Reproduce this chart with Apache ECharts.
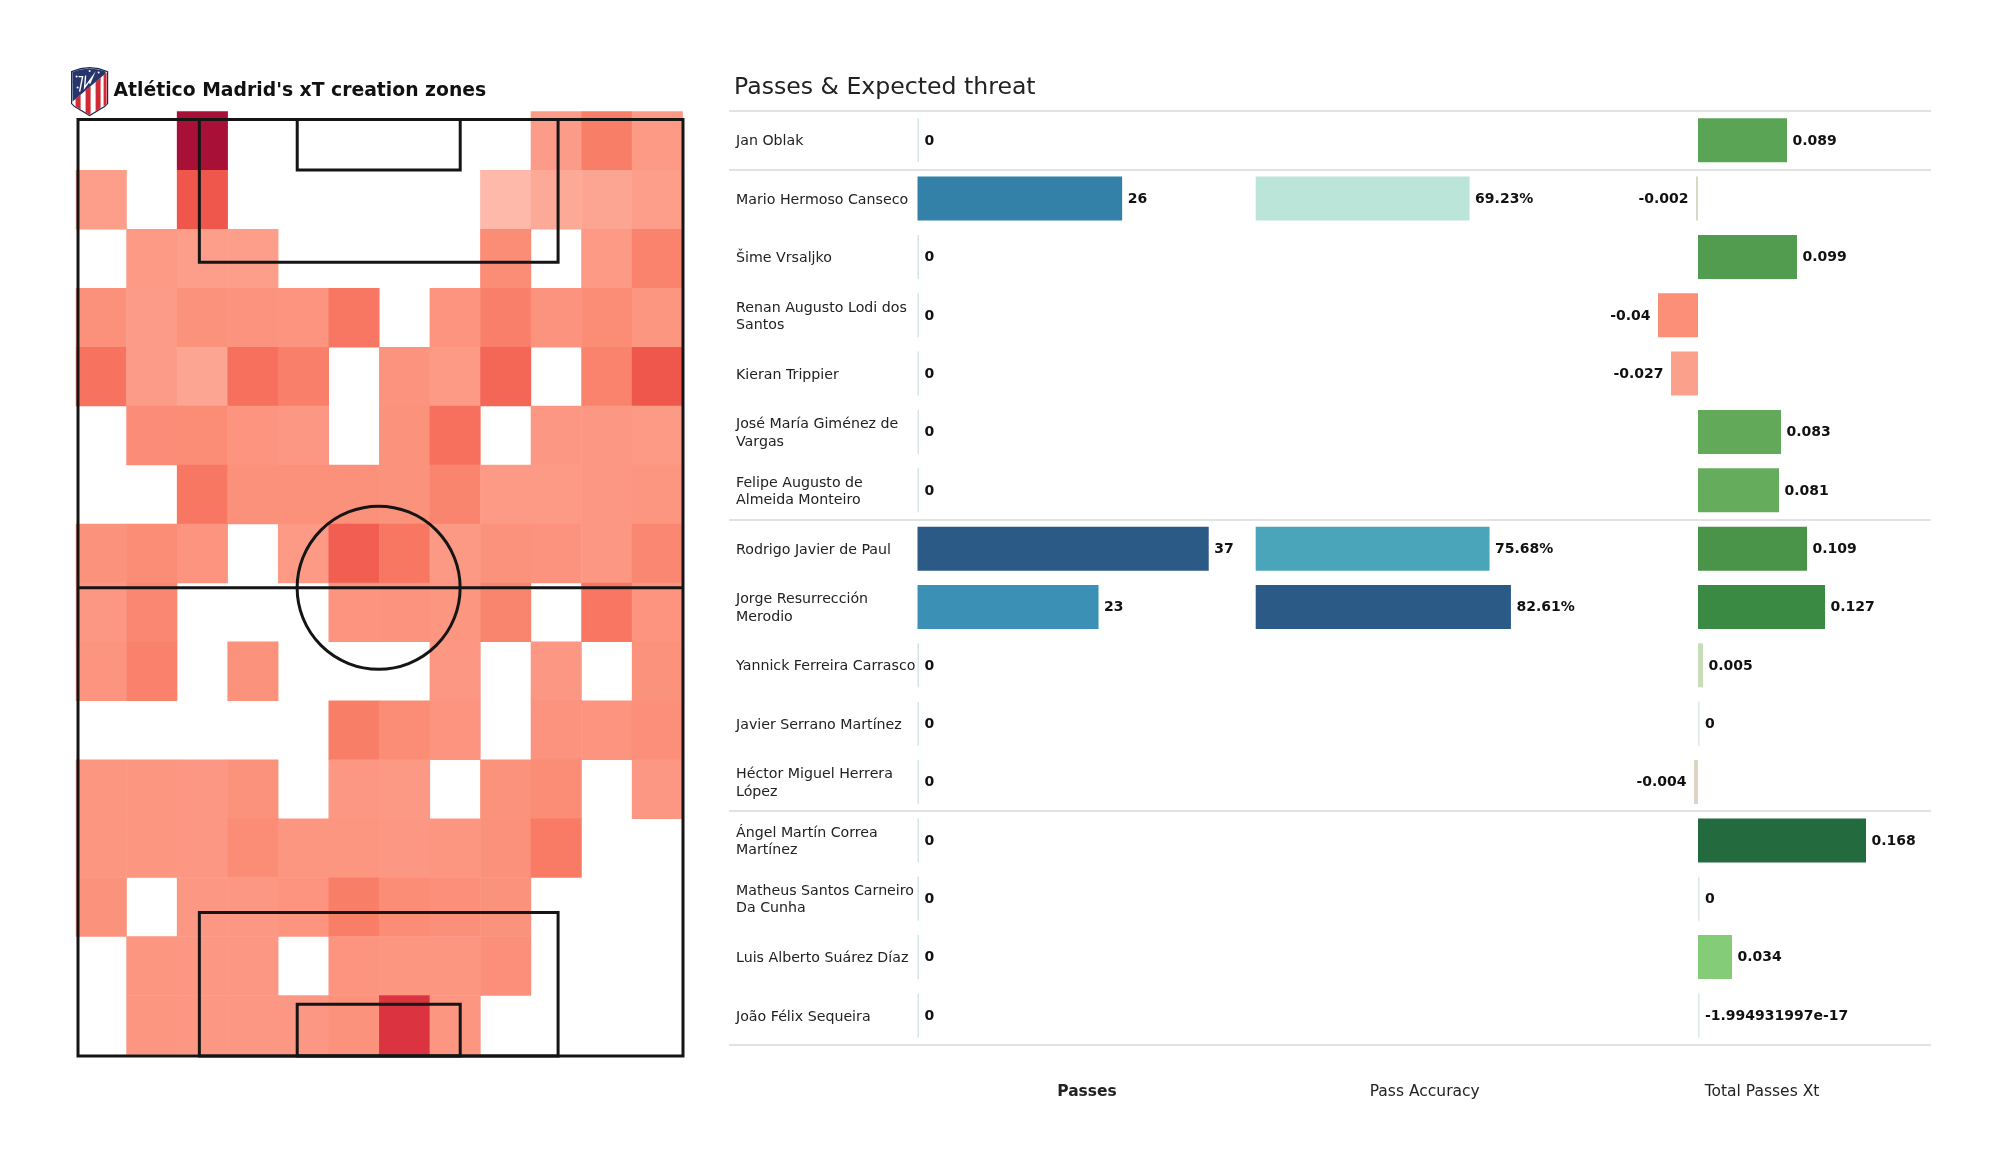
<!DOCTYPE html>
<html><head><meta charset="utf-8">
<script src="https://cdn.jsdelivr.net/npm/echarts@6/dist/echarts.min.js"></script>
<style>html,body{margin:0;padding:0;background:#fff}#c{width:2000px;height:1175px}</style>
</head><body><div id="c"></div>
<script>
const heatTitle = "Atlético Madrid's xT creation zones";
const tableTitle = "Passes & Expected threat";
// threat intensity by zone: 16 rows top to bottom, 12 columns left to right; null = no data
const _ = null;
const heatRows = [
 [_,_,100,_,_,_,_,_,_,19,38,20],
 [18,_,60,_,_,_,_,_,5,12,14,18],
 [_,20,18,18,_,_,_,_,30,_,20,35],
 [27,19,26,25,24,42,_,24,37,25,30,23],
 [45,19,14,47,37,_,25,20,52,_,35,60],
 [_,29,30,24,22,_,26,47,_,22,22,20],
 [_,_,42,27,27,27,26,34,20,20,22,23],
 [26,30,24,_,20,56,42,21,26,25,22,33],
 [22,33,_,_,_,24,25,23,34,_,43,24],
 [24,36,_,26,_,_,_,22,_,22,_,26],
 [_,_,_,_,_,38,30,24,_,25,24,28],
 [23,23,22,26,_,22,21,_,26,30,_,22],
 [23,23,22,30,23,23,22,23,27,40,_,_],
 [26,_,22,22,24,38,30,28,26,_,_,_],
 [_,23,22,22,_,24,23,23,28,_,_,_],
 [_,23,22,22,22,26,78,23,_,_,_,_]
];
const heatColors = ['#fec4b8','#fdad9c','#fc9a86','#fb8c76','#f97a65','#f56b5a','#f0574c','#e64449','#d92f3f','#c01f3d','#a81038'];
// pitch markings in metres on a 68 x 105 pitch: [x0, y0, x1, y1]
const pitchRects = [
 [0,0,68,105],[0,52.5,68,52.5],
 [13.64,0,53.96,16.1],[24.64,0,42.96,5.8],
 [13.64,89,53.96,105],[24.64,99.35,42.96,105]
];
const centreCircle = [[33.79,52.5,9.15]];

const players = ["Jan Oblak","Mario Hermoso Canseco","Šime Vrsaljko","Renan Augusto Lodi dos\nSantos","Kieran Trippier","José María Giménez de\nVargas","Felipe Augusto de\nAlmeida Monteiro","Rodrigo Javier de Paul","Jorge Resurrección\nMerodio","Yannick Ferreira Carrasco","Javier Serrano Martínez","Héctor Miguel Herrera\nLópez","Ángel Martín Correa\nMartínez","Matheus Santos Carneiro\nDa Cunha","Luis Alberto Suárez Díaz","João Félix Sequeira"];
const passes = [0,26,0,0,0,0,0,37,23,0,0,0,0,0,0,0];
const passColors = ['#d4e5e8','#3381a8','#d4e5e8','#d4e5e8','#d4e5e8','#d4e5e8','#d4e5e8','#2c5a87','#3b91b5','#d4e5e8','#d4e5e8','#d4e5e8','#d4e5e8','#d4e5e8','#d4e5e8','#d4e5e8'];
const accuracy = [_,69.23,_,_,_,_,_,75.68,82.61,_,_,_,_,_,_,_];
const accuracyColors = ['#fff','#bce5da','#fff','#fff','#fff','#fff','#fff','#4aa5bb','#2c5a87','#fff','#fff','#fff','#fff','#fff','#fff','#fff'];
const xt = [0.089,-0.002,0.099,-0.04,-0.027,0.083,0.081,0.109,0.127,0.005,0,-0.004,0.168,0,0.034,-1.994931997e-17];
const xtLabels = ['0.089','-0.002','0.099','-0.04','-0.027','0.083','0.081','0.109','0.127','0.005','0','-0.004','0.168','0','0.034','-1.994931997e-17'];
const xtColors = ['#5aa455','#d6d9c3','#529c50','#fc8f78','#fba08b','#62aa5a','#65ad5c','#499449','#3a8a44','#c7dcb8','#dfe6e6','#dcd4c4','#236b3f','#dfe6e6','#85cc78','#dfe6e6'];
const columnNames = ["Passes","Pass Accuracy","Total Passes Xt"];
const separatorRows = [0,1,7,12];

const heatData = [];
heatRows.forEach((row,r)=>row.forEach((v,c)=>{ if(v!==null) heatData.push([c,r,v]); }));
const rowIdx = players.map((_p,i)=>i);
const labelFont = {fontFamily:'DejaVu Sans',fontSize:14,fontWeight:'bold',color:'#111'};
const hiddenY = g => ({gridIndex:g,type:'category',inverse:true,data:rowIdx,show:false});
const colAxis = (g,min,max,i) => ({gridIndex:g,type:'value',min,max,splitLine:{show:false},axisLine:{show:false},axisTick:{show:false},axisLabel:{show:false},
  name:columnNames[i],nameLocation:'middle',nameGap:39.5,
  nameTextStyle:{fontFamily:'DejaVu Sans',fontSize:15.5,color:'#222',fontWeight:i===0?'bold':'normal'}});
const rowTop=111, rowH=933.6;
const barBase = {type:'bar',barWidth:44,barMinHeight:1.5,label:{show:true,position:'right',distance:5.5,offset:[0,0.7],...labelFont},silent:true};

const option = {
 animation:false,
 backgroundColor:'#fff',
 title:[
  {text:heatTitle,left:108.5,top:77,textStyle:{fontFamily:'DejaVu Sans',fontSize:18.8,fontWeight:'bold',color:'#111'}},
  {text:tableTitle,left:729,top:71,textStyle:{fontFamily:'DejaVu Sans',fontSize:23.6,fontWeight:'normal',color:'#222'}}
 ],
 visualMap:{show:false,seriesIndex:0,dimension:2,min:0,max:100,inRange:{color:heatColors}},
 grid:[
  {left:76,top:111.4,width:606.6,height:943},
  {left:78,top:119.5,width:605,height:936.5},
  {left:729,top:rowTop,width:1202,height:rowH},
  {left:917.5,top:rowTop,width:339,height:rowH},
  {left:1255.7,top:rowTop,width:338,height:rowH},
  {left:1598,top:rowTop,width:328,height:rowH},
  {left:729,top:rowTop+1.4,width:1202,height:rowH}
 ],
 xAxis:[
  {gridIndex:0,type:'category',data:heatRows[0].map((_v,i)=>i),show:false},
  {gridIndex:1,type:'value',min:0,max:68,show:false},
  {gridIndex:2,type:'value',min:0,max:1,show:false},
  colAxis(3,0,43.07,0),
  colAxis(4,0,109.4,1),
  colAxis(5,-0.1,0.228,2),
  {gridIndex:6,type:'value',min:0,max:1,show:false}
 ],
 yAxis:[
  {gridIndex:0,type:'category',inverse:true,data:heatRows.map((_v,i)=>i),show:false},
  {gridIndex:1,type:'value',min:0,max:105,show:false},
  {gridIndex:2,type:'category',inverse:true,data:rowIdx,axisLine:{show:false},axisTick:{show:false},axisLabel:{show:false},
   splitLine:{show:true,interval:i=>separatorRows.includes(i),lineStyle:{color:'#d9d9d9',width:1.5}}},
  hiddenY(3),hiddenY(4),hiddenY(5),
  {gridIndex:6,type:'category',inverse:true,data:players,axisLine:{show:false},axisTick:{show:false},splitLine:{show:false},
   axisLabel:{inside:true,margin:7,interval:0,align:'left',fontFamily:'DejaVu Sans',fontSize:14.2,lineHeight:17.3,color:'#222'}}
 ],
 series:[
  {type:'heatmap',xAxisIndex:0,yAxisIndex:0,data:heatData,silent:true},
  {type:'custom',xAxisIndex:1,yAxisIndex:1,data:pitchRects,silent:true,clip:false,z:5,
   renderItem:(p,api)=>{
    const a=api.coord([api.value(0),api.value(1)]), b=api.coord([api.value(2),api.value(3)]);
    return {type:'rect',shape:{x:Math.min(a[0],b[0]),y:Math.min(a[1],b[1]),width:Math.abs(a[0]-b[0]),height:Math.abs(a[1]-b[1])},
      style:{fill:'none',stroke:'#151515',lineWidth:3}};
   }},
  {type:'custom',xAxisIndex:1,yAxisIndex:1,data:centreCircle,silent:true,clip:false,z:5,
   renderItem:(p,api)=>{
    const c=api.coord([api.value(0),api.value(1)]), s=api.size([api.value(2),api.value(2)]);
    return {type:'circle',shape:{cx:c[0],cy:c[1],r:(s[0]+s[1])/2},style:{fill:'none',stroke:'#151515',lineWidth:3}};
   }},
  {...barBase,xAxisIndex:3,yAxisIndex:3,
   data:passes.map((v,i)=>({value:v,itemStyle:{color:passColors[i]}}))},
  {...barBase,barMinHeight:0,xAxisIndex:4,yAxisIndex:4,
   data:accuracy.map((v,i)=>({value:v===null?'-':v,itemStyle:{color:accuracyColors[i]}})),
   label:{...barBase.label,formatter:p=>p.value==='-'?'':p.value+'%'}},
  {...barBase,xAxisIndex:5,yAxisIndex:5,
   data:xt.map((v,i)=>({value:v,itemStyle:{color:xtColors[i]},label:v<-1e-9?{position:'left',distance:7.5}:{position:'right',distance:5.5}})),
   label:{...barBase.label,formatter:p=>xtLabels[p.dataIndex]}}
 ],
 graphic:[{type:'group',left:71,top:67,silent:true,children:[
   {type:'polygon',shape:{points:[[0,4],[9,1],[18,0],[27,1],[36,4],[36,36],[33,39],[18,48],[3,39],[0,36]]},style:{fill:'#fff',stroke:'#1d2a52',lineWidth:1.2}},
   {type:'polygon',shape:{points:[[4,31.5],[9,27],[9,42],[4,38.7]]},style:{fill:'#cf2b34'}},
   {type:'polygon',shape:{points:[[14,23],[19,18.7],[19,47.5],[14,45]]},style:{fill:'#cf2b34'}},
   {type:'polygon',shape:{points:[[24,14.5],[29,10],[29,40.7],[24,44]]},style:{fill:'#cf2b34'}},
   {type:'polygon',shape:{points:[[32,7.7],[35,5],[35,36.7],[32,38.7]]},style:{fill:'#cf2b34'}},
   {type:'polygon',shape:{points:[[0.8,4.5],[9,1.8],[18,0.8],[27,1.8],[34,4],[34,6],[1,34]]},style:{fill:'#27346e'}},
   {type:'polyline',shape:{points:[[7,9],[11,9],[8,24]]},style:{stroke:'#fff',fill:'none',lineWidth:1.4}},
   {type:'polyline',shape:{points:[[14,8],[13,20],[21,9],[18,16]]},style:{stroke:'#fff',fill:'none',lineWidth:1.4}},
   {type:'circle',shape:{cx:5,cy:9,r:1},style:{fill:'#fff'}},
   {type:'circle',shape:{cx:6,cy:20,r:1},style:{fill:'#fff'}},
   {type:'circle',shape:{cx:18,cy:3.5,r:1},style:{fill:'#fff'}},
   {type:'circle',shape:{cx:27,cy:5,r:1},style:{fill:'#fff'}}
 ]}]
};
const chart = echarts.init(document.getElementById('c'),null,{renderer:'canvas'});
chart.setOption(option);
</script></body></html>
